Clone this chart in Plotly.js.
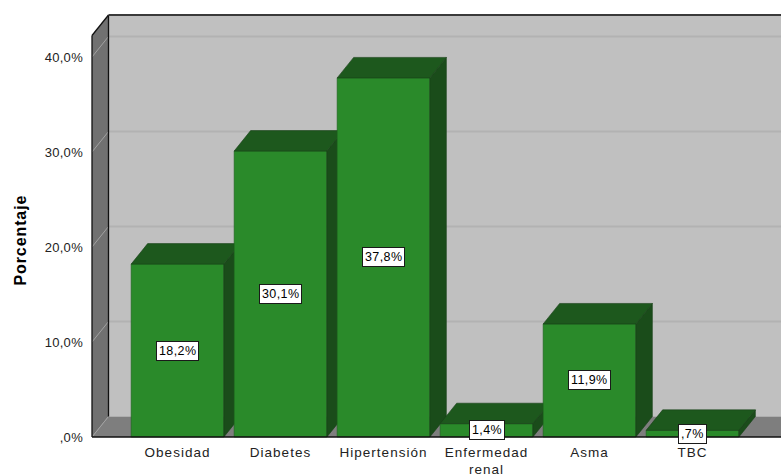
<!DOCTYPE html>
<html>
<head>
<meta charset="utf-8">
<script src="https://cdn.plot.ly/plotly-3.0.1.min.js"></script>
<style>
  html, body { margin: 0; padding: 0; background: #ffffff; }
  #chart { width: 781px; height: 475px; }
  .xtick text { letter-spacing: 1.0px; }
  .ytick text { letter-spacing: 0.3px; }
  .annotation-text { letter-spacing: 0.4px; }
  .annotation[data-index="0"] .annotation-text { letter-spacing: 0.9px; }
</style>
</head>
<body>
<div id="chart"></div>
<script>
// Enfermedades asociadas (porcentaje de casos)
const categories = ['Obesidad', 'Diabetes', 'Hipertensión', 'Enfermedad<br>renal', 'Asma', 'TBC'];
const percentages = [18.2, 30.1, 37.8, 1.4, 11.9, 0.7];
const yTickValues = [0, 10, 20, 30, 40];
const yTickLabels = [',0%', '10,0%', '20,0%', '30,0%', '40,0%'];
const yAxisTitle = 'Porcentaje';

// Page geometry (pixels)
const W = 781, H = 475;
const mL = 84, mR = 0, mT = 10, mB = 32;
const plotW = W - mL - mR, plotH = H - mT - mB;
const pxPerCat = 103, pxPerPct = 9.5;
const firstCatPx = 177.5, zeroPx = 437;

const xMin = -(firstCatPx - mL) / pxPerCat;
const xMax = xMin + plotW / pxPerCat;
const yMax = (zeroPx - mT) / pxPerPct;
const yMin = yMax - plotH / pxPerPct;

// Oblique depth of the 3D box, converted to axis units
const depthX = 16.5 / pxPerCat;
const depthY = 20.5 / pxPerPct;
const barWidth = 0.9;

// Walls
const xFront = xMin + 8 / pxPerCat;
const xBack = xFront + depthX;
const wallTop = yMax - 5 / pxPerPct;
const xFar = xMax + 1;

const colors = {
  backWall: '#c0c0c0', leftWall: '#717171', floor: '#7e7e7e',
  grid: '#b2b2b2', wallGrid: '#a2a2a2', edge: '#111111',
  front: '#2a8a2a', top: '#1d581d', side: '#1a4c1a', barEdge: '#1f5e1f'
};

function fmtPct(v) {
  let s = v.toFixed(1).replace('.', ',');
  if (s.startsWith('0')) s = s.slice(1);
  return s + '%';
}

const shapes = [];
shapes.push({ type: 'rect', layer: 'below', xref: 'x', yref: 'y',
  x0: xBack, x1: xFar, y0: depthY, y1: wallTop, fillcolor: colors.backWall, line: { width: 0 } });
shapes.push({ type: 'path', layer: 'below', xref: 'x', yref: 'y',
  path: `M${xFront},0 L${xBack},${depthY} L${xFar},${depthY} L${xFar},0 Z`,
  fillcolor: colors.floor, line: { width: 0 } });
shapes.push({ type: 'path', layer: 'below', xref: 'x', yref: 'y',
  path: `M${xFront},0 L${xBack},${depthY} L${xBack},${wallTop} L${xFront},${wallTop - depthY} Z`,
  fillcolor: colors.leftWall, line: { width: 0 } });

yTickValues.forEach(v => {
  if (v > 0) {
    shapes.push({ type: 'line', layer: 'below', xref: 'x', yref: 'y',
      x0: xBack, x1: xFar, y0: v + depthY, y1: v + depthY, line: { color: colors.grid, width: 2 } });
  }
  shapes.push({ type: 'line', layer: 'below', xref: 'x', yref: 'y',
    x0: xFront, x1: xBack, y0: v, y1: v + depthY, line: { color: colors.wallGrid, width: 1 } });
});

// Box edges
shapes.push({ type: 'line', layer: 'below', xref: 'x', yref: 'y',
  x0: xFront, x1: xFront, y0: 0, y1: wallTop - depthY, line: { color: colors.edge, width: 1.3 } });
shapes.push({ type: 'line', layer: 'below', xref: 'x', yref: 'y',
  x0: xFront, x1: xBack, y0: wallTop - depthY, y1: wallTop, line: { color: colors.edge, width: 1.3 } });
shapes.push({ type: 'line', layer: 'below', xref: 'x', yref: 'y',
  x0: xBack, x1: xBack, y0: depthY, y1: wallTop, line: { color: colors.edge, width: 1.3 } });
shapes.push({ type: 'line', layer: 'below', xref: 'x', yref: 'y',
  x0: xBack, x1: xFar, y0: wallTop, y1: wallTop, line: { color: '#3a3a3a', width: 2 } });
shapes.push({ type: 'line', layer: 'above', xref: 'x', yref: 'y',
  x0: xFront, x1: xFar, y0: 0, y1: 0, line: { color: colors.edge, width: 1.6 } });

// One overlaid x axis per bar so each bar's faces are painted left to right
const traces = [];
const layoutAxes = {};
percentages.forEach((v, i) => {
  const axId = i === 0 ? 'x' : 'x' + (i + 1);
  if (i > 0) {
    layoutAxes['xaxis' + (i + 1)] = { overlaying: 'x', range: [xMin, xMax], visible: false, fixedrange: true };
  }
  const xl = i - barWidth / 2, xr = i + barWidth / 2;
  traces.push({ type: 'bar', x: [i], y: [v], width: [barWidth], xaxis: axId, yaxis: 'y',
    marker: { color: colors.front, line: { color: colors.barEdge, width: 0.6 } },
    hoverinfo: 'skip', showlegend: false });
  traces.push({ type: 'scatter', mode: 'lines', xaxis: axId, yaxis: 'y',
    x: [xr, xr + depthX, xr + depthX, xr, xr], y: [0, depthY, v + depthY, v, 0],
    fill: 'toself', fillcolor: colors.side, line: { color: '#163f16', width: 0.6 },
    hoverinfo: 'skip', showlegend: false });
  traces.push({ type: 'scatter', mode: 'lines', xaxis: axId, yaxis: 'y',
    x: [xl, xr, xr + depthX, xl + depthX, xl], y: [v, v, v + depthY, v + depthY, v],
    fill: 'toself', fillcolor: colors.top, line: { color: '#173f17', width: 0.6 },
    hoverinfo: 'skip', showlegend: false });
});

const font = 'Liberation Sans, Arial, sans-serif';
const annotations = [{
  text: yAxisTitle, textangle: -90, xref: 'paper', yref: 'y', x: 0, y: (zeroPx - 240) / pxPerPct,
  xanchor: 'center', yanchor: 'middle', xshift: 20 - mL, showarrow: false,
  font: { family: font, size: 16, color: '#000000', weight: 'bold' }
}];
percentages.forEach((v, i) => {
  annotations.push({
    text: fmtPct(v), xref: 'x', yref: 'y', x: i, y: v / 2, showarrow: false,
    xanchor: 'center', yanchor: 'middle',
    bgcolor: '#ffffff', bordercolor: '#1a1a1a', borderwidth: 1, borderpad: 2,
    font: { family: font, size: 12.5, color: '#000000' }
  });
});

const layout = Object.assign({
  width: W, height: H,
  margin: { l: mL, r: mR, t: mT, b: mB, pad: 0 },
  paper_bgcolor: '#ffffff', plot_bgcolor: 'rgba(0,0,0,0)',
  showlegend: false, bargap: 0,
  xaxis: { range: [xMin, xMax], tickvals: percentages.map((_, i) => i), ticktext: categories,
    showgrid: false, zeroline: false, showline: false, ticks: '', fixedrange: true,
    ticklabelstandoff: -1,
    tickfont: { family: font, size: 13.5, color: '#222222' } },
  yaxis: { range: [yMin, yMax], tickvals: yTickValues, ticktext: yTickLabels,
    showgrid: false, zeroline: false, showline: false, ticks: '', fixedrange: true,
    tickfont: { family: font, size: 13, color: '#222222' } },
  shapes: shapes,
  annotations: annotations
}, layoutAxes);

Plotly.newPlot('chart', traces, layout, { staticPlot: true, displayModeBar: false });
</script>
</body>
</html>
